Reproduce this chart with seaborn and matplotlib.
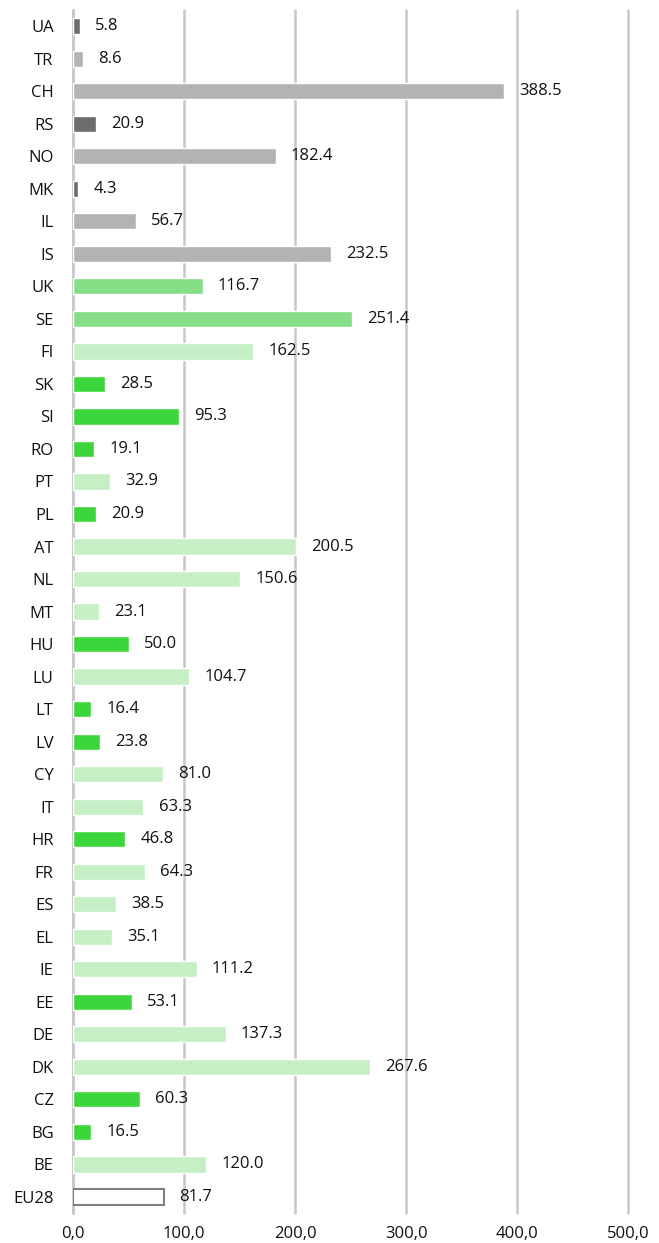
import matplotlib
matplotlib.use("Agg")
import matplotlib.pyplot as plt
import seaborn as sns
import pandas as pd
from matplotlib.ticker import FuncFormatter

countries = ['UA', 'TR', 'CH', 'RS', 'NO', 'MK', 'IL', 'IS', 'UK', 'SE', 'FI', 'SK', 'SI',
             'RO', 'PT', 'PL', 'AT', 'NL', 'MT', 'HU', 'LU', 'LT', 'LV', 'CY', 'IT', 'HR',
             'FR', 'ES', 'EL', 'IE', 'EE', 'DE', 'DK', 'CZ', 'BG', 'BE', 'EU28']
values = [5.8, 8.6, 388.5, 20.9, 182.4, 4.3, 56.7, 232.5, 116.7, 251.4, 162.5, 28.5, 95.3,
          19.1, 32.9, 20.9, 200.5, 150.6, 23.1, 50.0, 104.7, 16.4, 23.8, 81.0, 63.3, 46.8,
          64.3, 38.5, 35.1, 111.2, 53.1, 137.3, 267.6, 60.3, 16.5, 120.0, 81.7]
groups = ['dark', 'grey', 'grey', 'dark', 'grey', 'dark', 'grey', 'grey', 'mid', 'mid', 'light',
          'bright', 'bright', 'bright', 'light', 'bright', 'light', 'light', 'light', 'bright',
          'light', 'bright', 'bright', 'light', 'light', 'bright', 'light', 'light', 'light',
          'light', 'bright', 'light', 'light', 'bright', 'bright', 'light', 'eu']

group_colors = {'dark': '#6d6d6d', 'grey': '#b3b3b3', 'mid': '#86df86',
                'light': '#c6efc6', 'bright': '#3cd63c', 'eu': '#ffffff'}

df = pd.DataFrame({'country': countries, 'value': values, 'group': groups})
palette = {c: group_colors[g] for c, g in zip(countries, groups)}

sns.set_style("white")
plt.rcParams['font.family'] = ['Open Sans', 'DejaVu Sans']

fig = plt.figure(figsize=(6.59, 12.43), dpi=100)
ax = fig.add_axes([0.111, 0.024, 0.842, 0.968])

sns.barplot(data=df, x='value', y='country', hue='country', palette=palette,
            legend=False, width=0.5, saturation=1, ax=ax, zorder=3)

# EU28 outlined bar
for p in ax.patches:
    if abs(p.get_y() + p.get_height() / 2 - (len(countries) - 1)) < 0.01:
        p.set_edgecolor('#7f7f7f')
        p.set_linewidth(1.5)

for cont in ax.containers:
    ax.bar_label(cont, fmt='%.1f', padding=11, fontsize=12, color='#111111')

ax.set_xlim(0, 500)
ax.set_ylim(len(countries) - 0.5, -0.5)
ax.set_xticks([0, 100, 200, 300, 400, 500])
ax.xaxis.set_major_formatter(FuncFormatter(lambda v, _: f"{v:.1f}".replace('.', ',')))
ax.grid(axis='x', color='#c8c8c8', linewidth=1.8, zorder=0)
for gl in ax.get_xgridlines():
    gl.set_clip_on(False)
ax.set_axisbelow(True)
for s in ['top', 'right', 'bottom']:
    ax.spines[s].set_visible(False)
ax.spines['left'].set_color('#c8c8c8')
ax.spines['left'].set_linewidth(1.8)
ax.tick_params(axis='y', length=0, pad=14, labelsize=12, labelcolor='#111111')
ax.tick_params(axis='x', length=0, pad=9, labelsize=12, labelcolor='#111111')
ax.set_xlabel('')
ax.set_ylabel('')

fig.savefig('out.png', dpi=100)
